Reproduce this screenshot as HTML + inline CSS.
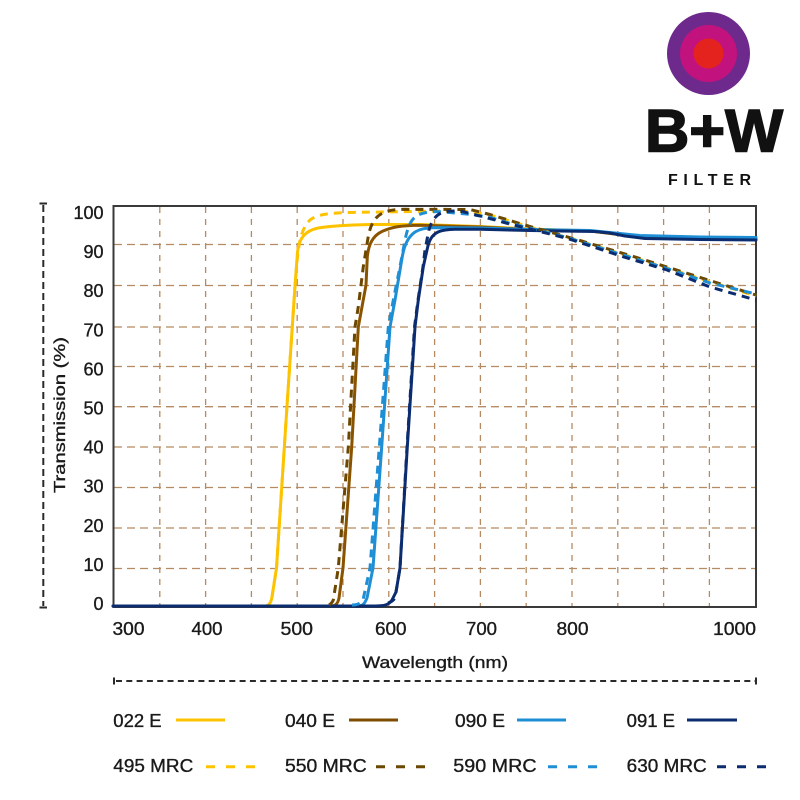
<!DOCTYPE html>
<html><head><meta charset="utf-8"><style>
html,body{margin:0;padding:0;background:#fff;}
svg{display:block;}
text{font-family:"Liberation Sans",sans-serif;fill:#1a1a1a;}
.t{stroke:#1a1a1a;stroke-width:0.35px;}
</style></head><body>
<svg width="800" height="800" viewBox="0 0 800 800" xmlns="http://www.w3.org/2000/svg">
<rect width="800" height="800" fill="#fff"/>
<!-- Logo -->
<circle cx="708.5" cy="53.5" r="41.5" fill="#6D2A8C"/>
<circle cx="708.5" cy="53.5" r="28.5" fill="#C2127E"/>
<circle cx="708.5" cy="53.5" r="15" fill="#E4231F"/>
<text x="645" y="151.5" font-size="60" font-weight="bold" style="fill:#111;stroke:#111;stroke-width:1.6px" textLength="138" lengthAdjust="spacingAndGlyphs">B+W</text>
<text x="668" y="185" font-size="16" font-weight="bold" style="fill:#111" textLength="83" lengthAdjust="spacing">FILTER</text>

<!-- Grid -->
<g stroke="#B68A62" stroke-width="1.3" fill="none">
<g stroke-dasharray="6,6">
<line x1="159.8" y1="207" x2="159.8" y2="606"/>
<line x1="205.6" y1="207" x2="205.6" y2="606"/>
<line x1="251.4" y1="207" x2="251.4" y2="606"/>
<line x1="297.2" y1="207" x2="297.2" y2="606"/>
<line x1="343" y1="207" x2="343" y2="606"/>
<line x1="388.8" y1="207" x2="388.8" y2="606"/>
<line x1="434.6" y1="207" x2="434.6" y2="606"/>
<line x1="480.4" y1="207" x2="480.4" y2="606"/>
<line x1="526.2" y1="207" x2="526.2" y2="606"/>
<line x1="572" y1="207" x2="572" y2="606"/>
<line x1="617.8" y1="207" x2="617.8" y2="606"/>
<line x1="663.6" y1="207" x2="663.6" y2="606"/>
<line x1="709.4" y1="207" x2="709.4" y2="606"/>
</g>
<g stroke-dasharray="8,5">
<line x1="114" y1="244.5" x2="755" y2="244.5"/>
<line x1="114" y1="285.5" x2="755" y2="285.5"/>
<line x1="114" y1="327" x2="755" y2="327"/>
<line x1="114" y1="366.5" x2="755" y2="366.5"/>
<line x1="114" y1="406.7" x2="755" y2="406.7"/>
<line x1="114" y1="447" x2="755" y2="447"/>
<line x1="114" y1="487.5" x2="755" y2="487.5"/>
<line x1="114" y1="528" x2="755" y2="528"/>
<line x1="114" y1="568.5" x2="755" y2="568.5"/>
</g>
</g>

<!-- Plot frame -->
<rect x="113.5" y="206" width="642.5" height="401" fill="none" stroke="#3a3a3a" stroke-width="2"/>

<!-- Solid curves -->
<g fill="none" stroke-width="3" stroke-linejoin="round" stroke-linecap="round">
<path stroke="#FDC300" d="M113,606 L265,606 C269,606 271,603 272,597 L276.5,568 L287,406 L295,286 L297.5,252 C299,238 305,231 318,228 C330,226 345,225 370,224.5 L420,224.5 L480,226.5 L530,229 L590,231 L615,234 L640,236.5 L700,238 L756,238.5"/>
<path stroke="#8A5300" d="M113,606 L331,606 C336,606 338,603 339,598 L343,568 L351.7,447 L358.3,327 L366,285 L367.3,257 C368.5,245 372,236 383,231 C392,227 400,225.5 420,225.2 L480,227 L530,229.5 L590,231 L615,234 L640,236.5 L700,238 L756,238.8"/>
<path stroke="#1E8FD5" d="M113,606 L358,606 C363,606 365,603 367,598 L373,568 L381.7,447 L390,327 L395,300 L401.7,260 C404,245 408,237 415,232 C420,229 425,228 435,227.6 L480,228 L530,229.5 L590,230.5 L615,233 L640,235.5 L700,237 L756,237.5"/>
<path stroke="#0C2C70" d="M113,606 L375,606 C384,606 389,605 392,600 L396,592 L400,568 L407.3,447 L415,327 L418.3,300 L423.3,266.7 L427,250 C429,240 432,235 438,232 C443,230 447,229.5 455,229.3 L480,229.3 L530,230.5 L560,231 L595,231.5 L610,233 L625,236 L645,238.5 L700,239.5 L756,240"/>
</g>

<!-- Dashed curves -->
<g fill="none" stroke-width="3" stroke-linejoin="round" stroke-dasharray="8,6">
<path stroke="#FDC300" d="M272,597 L276.5,568 L287,406 L295,286 L297,262 C299,240 302,228 310,220 C318,214 330,213 350,212.5 L440,211 L470,211.5 L490,215 L523,225 L580,241 L640,259.5 L713,282.5 L756,296"/>
<path stroke="#6B4700" d="M329,605 C331,604 332,603 333.3,600 L338.3,568 L348.3,447 L355,327 L358.3,306.7 L363.3,266.7 L368,238 C370,226 374,218 381,214 C388,210 395,209.5 405,209.3 L470,209.5 L490,214.5 L523,224.5 L580,240.5 L640,258.5 L713,281.5 L756,295"/>
<path stroke="#1E8FD5" d="M352,605 C357,605 360,604 363,600 L370,568 L379.3,447 L388.3,327 L393.3,300 L400,266.7 L405,240 C408,226 411,219 418,215 C425,212 432,211.5 440,211.7 L466.7,214 L490,217.3 L507,222.5 L567,237.5 L623,255 L667,268.5 L710,283 L756,294"/>
<path stroke="#0C2C70" d="M388,603 C391,602 393,601 395,598 L400,568 L407,447 L414.5,327 L418,300 L423,266.7 L425,250 L428.3,233 C430,224 434,216 441.7,212.7 C447,211 452,211 460,211 L483,216.7 L507,223.3 L567,238.3 L623,256.7 L667,270 L710,287 L756,300"/>
</g>

<!-- Y tick labels -->
<g font-size="18" text-anchor="end" class="t">
<text class="t" x="103.5" y="219">100</text>
<text class="t" x="103.5" y="258.1">90</text>
<text class="t" x="103.5" y="297.2">80</text>
<text class="t" x="103.5" y="336.3">70</text>
<text class="t" x="103.5" y="375.4">60</text>
<text class="t" x="103.5" y="414.5">50</text>
<text class="t" x="103.5" y="453.6">40</text>
<text class="t" x="103.5" y="492.7">30</text>
<text class="t" x="103.5" y="531.8">20</text>
<text class="t" x="103.5" y="570.9">10</text>
<text class="t" x="103.5" y="610">0</text>
</g>

<!-- X tick labels -->
<g font-size="18">
<text class="t" x="112.5" y="635" textLength="32" lengthAdjust="spacingAndGlyphs">300</text>
<text class="t" x="191.5" y="635" textLength="31" lengthAdjust="spacingAndGlyphs">400</text>
<text class="t" x="280.5" y="635" textLength="32.5" lengthAdjust="spacingAndGlyphs">500</text>
<text class="t" x="375" y="635" textLength="31.5" lengthAdjust="spacingAndGlyphs">600</text>
<text class="t" x="466" y="635" textLength="31" lengthAdjust="spacingAndGlyphs">700</text>
<text class="t" x="556.5" y="635" textLength="32" lengthAdjust="spacingAndGlyphs">800</text>
<text class="t" x="713" y="635" textLength="43" lengthAdjust="spacingAndGlyphs">1000</text>
</g>

<!-- Axis titles -->
<text class="t" x="362" y="668" font-size="17" textLength="146" lengthAdjust="spacingAndGlyphs">Wavelength (nm)</text>
<text class="t" transform="translate(65,415) rotate(-90)" x="-78" y="0" font-size="15.5" textLength="156" lengthAdjust="spacingAndGlyphs">Transmission (%)</text>

<!-- Guide dashed lines -->
<g stroke="#2a2a2a" stroke-width="2" fill="none">
<line x1="43.3" y1="205" x2="43.3" y2="606" stroke-dasharray="7,4"/>
<line x1="39.5" y1="203.5" x2="47" y2="203.5"/>
<line x1="39.5" y1="607.5" x2="47" y2="607.5"/>
<line x1="116" y1="681" x2="755" y2="681" stroke-dasharray="6,4.3"/>
<line x1="114" y1="677.5" x2="114" y2="684.5"/>
<line x1="756" y1="677.5" x2="756" y2="684.5"/>
</g>

<!-- Legend -->
<g font-size="18">
<text class="t" x="113.3" y="727" textLength="48.3" lengthAdjust="spacingAndGlyphs">022 E</text>
<text class="t" x="285" y="727" textLength="50" lengthAdjust="spacingAndGlyphs">040 E</text>
<text class="t" x="455" y="727" textLength="50" lengthAdjust="spacingAndGlyphs">090 E</text>
<text class="t" x="626.7" y="727" textLength="48.3" lengthAdjust="spacingAndGlyphs">091 E</text>
<text class="t" x="113.3" y="772" textLength="80" lengthAdjust="spacingAndGlyphs">495 MRC</text>
<text class="t" x="285" y="772" textLength="81.7" lengthAdjust="spacingAndGlyphs">550 MRC</text>
<text class="t" x="453.3" y="772" textLength="83.3" lengthAdjust="spacingAndGlyphs">590 MRC</text>
<text class="t" x="626.7" y="772" textLength="80" lengthAdjust="spacingAndGlyphs">630 MRC</text>
</g>
<g stroke-width="3" fill="none">
<line x1="176" y1="720" x2="225" y2="720" stroke="#FDC300"/>
<line x1="349" y1="720" x2="398" y2="720" stroke="#7D4C00"/>
<line x1="517" y1="720" x2="566" y2="720" stroke="#1E8FD5"/>
<line x1="687" y1="720" x2="737" y2="720" stroke="#0C2C70"/>
<line x1="206" y1="766.7" x2="255" y2="766.7" stroke="#FDC300" stroke-dasharray="9,11"/>
<line x1="376" y1="766.7" x2="425" y2="766.7" stroke="#6B4700" stroke-dasharray="9,11"/>
<line x1="548" y1="766.7" x2="597" y2="766.7" stroke="#1E8FD5" stroke-dasharray="9,11"/>
<line x1="717" y1="766.7" x2="766" y2="766.7" stroke="#0C2C70" stroke-dasharray="9,11"/>
</g>
</svg>
</body></html>
